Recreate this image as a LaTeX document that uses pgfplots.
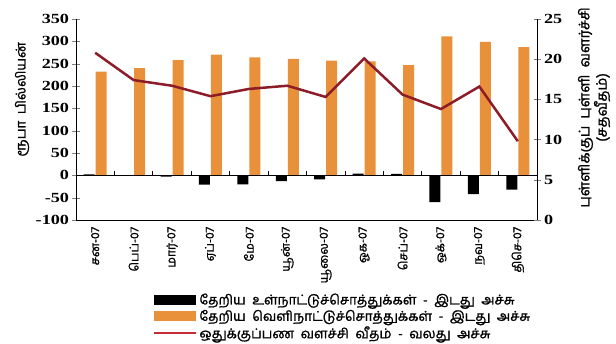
\documentclass[border=0pt]{standalone}
\usepackage{fontspec}
\setmainfont{Liberation Serif}
\newfontfamily\tamil[Script=Tamil, FakeBold=1.2]{Hind Madurai}
\newfontfamily\numfont[FakeStretch=1.3]{Liberation Serif}
\usepackage{pgfplots}
\pgfplotsset{compat=1.18}
\definecolor{barorange}{RGB}{232,144,58}
\definecolor{linered}{RGB}{140,28,40}
\definecolor{legred}{RGB}{200,45,55}
\begin{document}
\begin{tikzpicture}
\path[use as bounding box] (0bp,0bp) rectangle (616bp,344bp);
\begin{axis}[at={(76bp,124bp)}, anchor=south west, scale only axis,
  width=461bp, height=201bp,
  xmin=-0.5, xmax=11.5, ymin=-100, ymax=350,
  axis x line*=bottom, axis y line*=left,
  xtick={0,1,2,3,4,5,6,7,8,9,10,11},
  xticklabels={சன-07,பெப்-07,மார்-07,ஏப்-07,மே-07,யூன்-07,யூலை-07,ஓக-07,செப்-07,ஒக்-07,நவ-07,திசெ-07},
  x tick label style={rotate=90, anchor=east, font=\tamil\fontsize{12}{12}\selectfont},
  xtick style={draw=none},
  ytick={-100,-50,0,50,100,150,200,250,300,350},
  tick align=center, major tick length=7bp,
  yticklabel style={font=\numfont\bfseries\fontsize{14}{14}\selectfont},
  /pgf/number format/assume math mode=true,
  ylabel={\tamil ரூபா\ \ பில்லியன்},
  ylabel style={at={(rel axis cs:0,0.6)}, anchor=center, yshift=54bp, xshift=0bp, font=\fontsize{13.5}{13.5}\selectfont},
  legend style={at={(rel axis cs:0.16,-0.345)}, anchor=north west, draw=none, fill=none,
    font=\tamil\fontsize{13.5}{13.5}\selectfont, row sep=0bp,
    /tikz/every even column/.append style={column sep=8bp}},
  legend cell align=left,
  clip=false,
]
\addplot[ybar, bar width=11bp, bar shift=-6bp, fill=black, draw=none,
  legend image code/.code={\fill[black] (0bp,-5bp) rectangle (42bp,5bp);}]
  coordinates {(0,2) (1,0) (2,-3) (3,-21) (4,-20) (5,-13) (6,-9) (7,4) (8,3) (9,-60) (10,-42) (11,-32)};
\addlegendentry{தேறிய\ \ உள்நாட்டுச்சொத்துக்கள்\ \ -\ \ இடது\ \ அச்சு}
\addplot[ybar, bar width=11bp, bar shift=6bp, fill=barorange, draw=none,
  legend image code/.code={\fill[barorange] (0bp,-5bp) rectangle (42bp,5bp);}]
  coordinates {(0,232) (1,240) (2,258) (3,270) (4,264) (5,261) (6,257) (7,255) (8,247) (9,311) (10,299) (11,287)};
\addlegendentry{தேறிய\ \ வெளிநாட்டுச்சொத்துக்கள்\ \ -\ \ இடது\ \ அச்சு}
\addlegendimage{legend image code/.code={\draw[legred, line width=2.5bp] (0bp,0bp) -- (42bp,0bp);}}
\addlegendentry{ஒதுக்குப்பண\ \ வளச்சி\ \ வீதம்\ \ -\ \ வலது\ \ அச்சு}
\draw[black, line width=0.8pt] (axis cs:-0.5,0) -- (axis cs:11.5,0);
\pgfplotsinvokeforeach{0.5,1.5,2.5,3.5,4.5,5.5,6.5,7.5,8.5,9.5,10.5}{
  \draw[black, line width=0.8pt] (axis cs:#1,0) -- ++(0bp,4bp);
}
\end{axis}
\begin{axis}[at={(76bp,124bp)}, anchor=south west, scale only axis,
  width=461bp, height=201bp,
  xmin=-0.5, xmax=11.5, ymin=0, ymax=25,
  axis x line=none, axis y line*=right,
  ytick={0,5,10,15,20,25},
  tick align=center, major tick length=7bp,
  yticklabel style={font=\numfont\bfseries\fontsize{14}{14}\selectfont},
  /pgf/number format/assume math mode=true,
  ylabel={\tamil புள்ளிக்குப்\ \ புள்ளி\ \ வளர்ச்சி\\\tamil(சதவீதம்)},
  ylabel style={at={(rel axis cs:1,0.56)}, anchor=center, yshift=-57bp, xshift=0bp, align=center,
    font=\fontsize{14.5}{15.5}\selectfont},
  clip=false,
]
\addplot[linered, line width=2.5bp, mark=none]
  coordinates {(0,20.8) (1,17.4) (2,16.7) (3,15.4) (4,16.3) (5,16.7) (6,15.3) (7,20.1) (8,15.6) (9,13.8) (10,16.6) (11,9.8)};
\end{axis}
\end{tikzpicture}
\end{document}
